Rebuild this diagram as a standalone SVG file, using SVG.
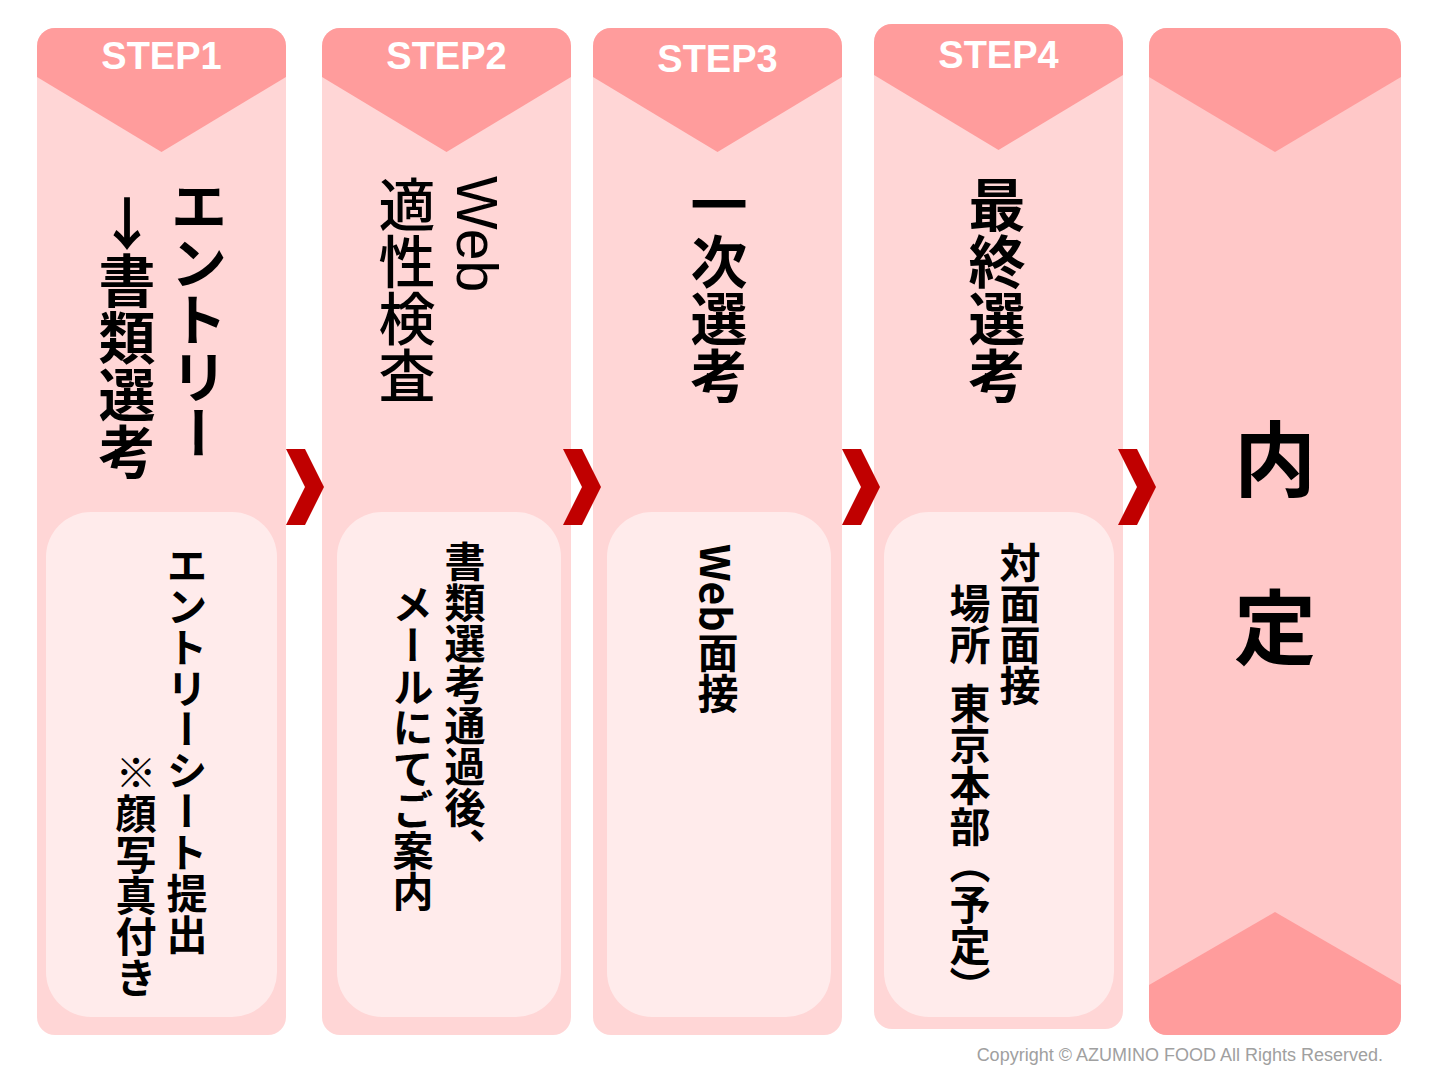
<svg xmlns="http://www.w3.org/2000/svg" xmlns:xlink="http://www.w3.org/1999/xlink" width="1434" height="1080" viewBox="0 0 1434 1080">
<defs>
<style>
.body{fill:#FFD6D6}
.body5{fill:#FFC8C8}
.head{fill:#FF9C9C}
.inner{fill:#FFEBEB}
.step{font-family:"Liberation Sans","Noto Sans",sans-serif;font-weight:bold;font-size:38px;fill:#FFFFFF;text-anchor:middle}
.vt{font-family:"Noto Sans CJK JP",sans-serif;writing-mode:vertical-rl;fill:#000000}
.lat{font-family:"Liberation Sans","Noto Sans CJK JP",sans-serif}
.t1{font-size:57px;font-weight:bold}
.t1n{font-size:57px;font-weight:500}
.t2{font-size:41px;font-weight:bold}
.up{text-orientation:upright}
.big{font-family:"Noto Sans CJK JP",sans-serif;font-weight:bold;font-size:82px;fill:#000000;text-anchor:middle;dominant-baseline:central}
.copy{font-family:"Liberation Sans",sans-serif;font-size:18px;fill:#A0A0A0;text-anchor:end}
.chev{fill:#C00000}
</style>
<polygon id="chevron" points="0,0 19,0 38,38 19,76 0,76 19,38"/>
</defs>
<rect width="1434" height="1080" fill="#FFFFFF"/>

<g id="step1">
<rect class="body" x="37" y="28" width="249" height="1007" rx="18"/>
<path class="head" d="M37,77 L37,46 A18,18 0 0 1 55,28 L268,28 A18,18 0 0 1 286,46 L286,77 L161.5,152 Z"/>
<text class="step" x="161.5" y="69">STEP1</text>
<text class="vt t1" x="199" y="177">エントリー</text>
<text class="vt t1 up" x="127" y="195">↓書類選考</text>
<rect class="inner" x="46" y="512" width="231" height="505" rx="45"/>
<text class="vt t2" x="187" y="545">エントリーシート提出</text>
<text class="vt t2" x="136" y="752">※顔写真付き</text>
</g>

<g id="step2">
<rect class="body" x="322" y="28" width="249" height="1007" rx="18"/>
<path class="head" d="M322,77 L322,46 A18,18 0 0 1 340,28 L553,28 A18,18 0 0 1 571,46 L571,77 L446.5,152 Z"/>
<text class="step" x="446.5" y="69">STEP2</text>
<text class="vt lat t1n" x="477" y="176">Web</text>
<text class="vt t1n" x="407" y="176">適性検査</text>
<rect class="inner" x="337" y="512" width="224" height="505" rx="45"/>
<text class="vt t2" x="465" y="541">書類選考通過後、</text>
<text class="vt t2" x="413" y="584">メールにてご案内</text>
</g>

<g id="step3">
<rect class="body" x="593" y="28" width="249" height="1007" rx="18"/>
<path class="head" d="M593,77 L593,46 A18,18 0 0 1 611,28 L824,28 A18,18 0 0 1 842,46 L842,77 L717.5,152 Z"/>
<text class="step" x="717.5" y="72">STEP3</text>
<text class="vt t1" x="719" y="176">一次選考</text>
<rect class="inner" x="607" y="512" width="224" height="505" rx="45"/>
<text class="vt t2" x="718" y="544">Web面接</text>
</g>

<g id="step4">
<rect class="body" x="874" y="24" width="249" height="1005" rx="18"/>
<path class="head" d="M874,75 L874,42 A18,18 0 0 1 892,24 L1105,24 A18,18 0 0 1 1123,42 L1123,75 L998.5,150 Z"/>
<text class="step" x="998.5" y="68">STEP4</text>
<text class="vt t1" x="997" y="176">最終選考</text>
<rect class="inner" x="884" y="512" width="230" height="505" rx="45"/>
<text class="vt t2" x="1020" y="542">対面面接</text>
<text class="vt t2" x="970" y="583">場所</text>
<text class="vt t2" x="970" y="683">東京本部</text>
<text class="vt t2" x="970" y="843">（予定）</text>
</g>

<g id="naitei">
<rect class="body5" x="1149" y="28" width="252" height="1007" rx="18"/>
<path class="head" d="M1149,77 L1149,46 A18,18 0 0 1 1167,28 L1383,28 A18,18 0 0 1 1401,46 L1401,77 L1275,152 Z"/>
<path class="head" d="M1149,985 L1275,912 L1401,985 L1401,1017 A18,18 0 0 1 1383,1035 L1167,1035 A18,18 0 0 1 1149,1017 Z"/>
<text class="big" x="1275" y="454">内</text>
<text class="big" x="1275" y="622">定</text>
</g>

<g id="connectors">
<use xlink:href="#chevron" class="chev" transform="translate(286,449)"/>
<use xlink:href="#chevron" class="chev" transform="translate(563,449)"/>
<use xlink:href="#chevron" class="chev" transform="translate(842,449)"/>
<use xlink:href="#chevron" class="chev" transform="translate(1118,449)"/>
</g>

<text class="copy" x="1383" y="1061">Copyright © AZUMINO FOOD All Rights Reserved.</text>
</svg>
